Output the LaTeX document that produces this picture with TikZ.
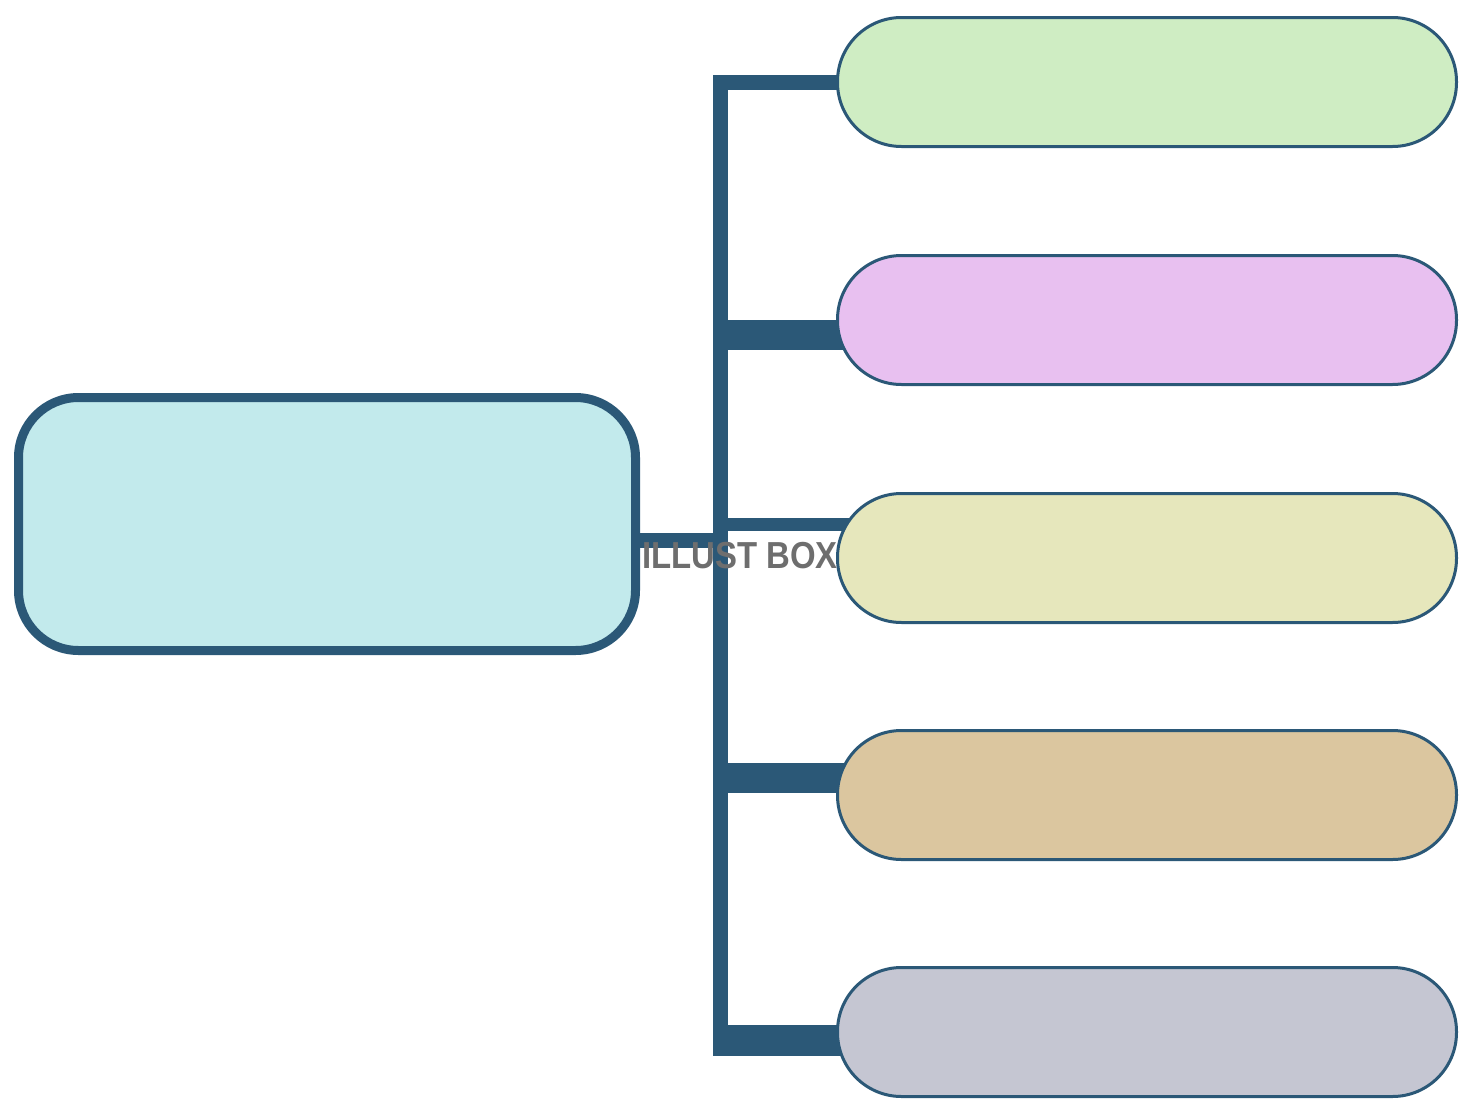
\documentclass[tikz,border=0pt]{standalone}
\usepackage{fontspec}
\setmainfont{Liberation Sans}
\usetikzlibrary{backgrounds}

\definecolor{linkblue}{HTML}{2B5877}
\definecolor{mainfill}{HTML}{C2EAEC}
\definecolor{pillgreen}{HTML}{CFEDC3}
\definecolor{pillpink}{HTML}{E8C0F0}
\definecolor{pillyellow}{HTML}{E6E7BC}
\definecolor{pilltan}{HTML}{DBC69F}
\definecolor{pillgrey}{HTML}{C5C6D2}
\definecolor{markgrey}{HTML}{6E6E6E}

\tikzset{
  mainbox/.style={draw=linkblue, line width=0.09cm, fill=mainfill,
    rounded corners=0.6cm, minimum width=6.17cm, minimum height=2.53cm},
  pill/.style={draw=linkblue, line width=0.03cm, rounded corners=0.64cm,
    minimum width=6.19cm, minimum height=1.29cm},
  link/.style={draw=linkblue, line width=0.15cm, line join=miter},
}

\begin{document}
\begin{tikzpicture}
    \useasboundingbox (0,0) rectangle (14.8,11.1);

      %===== Main box =====%
      \node[mainbox] (main) at (3.27,5.86) {};

      %===== Pills on the right =====%
      \node[pill, fill=pillgreen]  (b1) at (11.47,10.28) {};
      \node[pill, fill=pillpink]   (b2) at (11.47,7.90) {};
      \node[pill, fill=pillyellow] (b3) at (11.47,5.52) {};
      \node[pill, fill=pilltan]    (b4) at (11.47,3.15) {};
      \node[pill, fill=pillgrey]   (b5) at (11.47,0.78) {};

      \coordinate (bus) at (7.20,0);

      % connectors behind the boxes
      \begin{scope}[on background layer]
        \draw[link] ([xshift=0.1cm]b1.west) -| (bus |- b5.west); % bus
        \draw[link] ([xshift=-0.1cm,yshift=-0.16cm]main.east) -- ([yshift=-0.16cm]bus |- main.east);
        \draw[link, line width=0.3cm]
          ([xshift=0.15cm,yshift=-0.15cm]b2.west) -- ([xshift=-0.075cm,yshift=-0.15cm]bus |- b2.west);
        \draw[link, line width=0.13cm]
          ([xshift=0.2cm,yshift=0.34cm]b3.west) -- ([yshift=0.34cm]bus |- b3.west);
        \draw[link, line width=0.3cm]
          ([xshift=0.15cm,yshift=0.17cm]b4.west) -- ([xshift=-0.075cm,yshift=0.17cm]bus |- b4.west);
        \draw[link, line width=0.31cm]
          ([xshift=0.15cm,yshift=-0.08cm]b5.west) -- ([xshift=-0.075cm,yshift=-0.08cm]bus |- b5.west);
      \end{scope}

      % watermark
      \node[text=markgrey, font=\fontsize{10.7}{12}\selectfont\bfseries,
        xscale=0.875, inner sep=0pt] (mark) at (7.40,5.54) {ILLUST BOX};
    \end{tikzpicture}
\end{document}
